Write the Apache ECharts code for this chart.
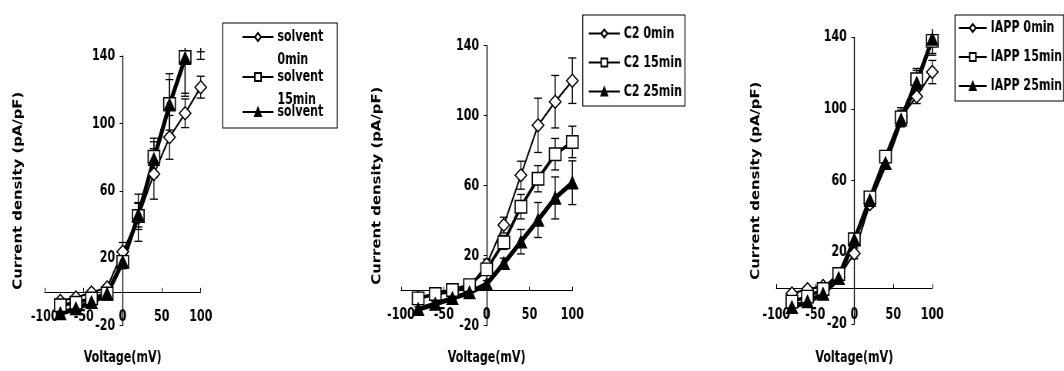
<!DOCTYPE html>
<html>
<head>
<meta charset="utf-8">
<script src="https://cdn.jsdelivr.net/npm/echarts@6/dist/echarts.min.js"></script>
<style>
  html, body { margin: 0; padding: 0; background: #fff; overflow: hidden; }
  /* the original figure is squeezed sideways, so draw wide and scale x down */
  #main { width: 1382px; height: 371px; transform: scaleX(0.77); transform-origin: 0 0; }
</style>
</head>
<body>
<div id="main"></div>
<script>
// membrane potential steps (mV)
var voltage = [-80, -60, -40, -20, 0, 20, 40, 60, 80, 100];
var xTicks = [-100, -50, 0, 50, 100];
var yTicks = [-20, 20, 60, 100, 140];

// panel 1 - solvent
var solventNames = ['solvent 0min', 'solvent 15min', 'solvent 25min'];
var solventLegend = [['solvent', '0min'], ['solvent', '15min'], ['solvent']];
var solvent0 = [-5.5, -3.4, -0.4, 2.6, 23.8, 44, 70, 91.7, 106, 121.5];
var solvent0Err = [1.5, 1.5, 1.5, 1.5, 5.5, 14, 15, 13, 8.5, 6.5];
var solvent15 = [-8, -6.5, -4, -1, 17.8, 45, 80.2, 111.5, 139.4, 158];
var solvent15Err = [1.5, 1.5, 1.5, 1.5, 4, 8, 11, 18, 21.5, 15.5];
var solvent25 = [-12.9, -10, -6.3, -1.4, 17.8, 45.5, 78.6, 111, 138.6, 152];
var solvent25Err = [1.5, 1.5, 1.5, 1.5, 4, 7, 10.5, 15, 22.5, 14];

// panel 2 - C2
var c2Names = ['C2 0min', 'C2 15min', 'C2 25min'];
var c2_0 = [-4, -2, -1, 2, 15, 37.5, 66, 94.5, 108, 120];
var c2_0Err = [1.5, 1.5, 1.5, 1.5, 3, 4.5, 8, 15.5, 15, 13];
var c2_15 = [-4.4, -1.9, 0.4, 3.2, 12.2, 27.6, 48, 64, 78, 85];
var c2_15Err = [1.5, 1.5, 1.5, 1.5, 3, 4, 7, 7.5, 9, 9];
var c2_25 = [-10.7, -7.6, -4.4, -1.1, 3.8, 15.6, 28, 40.4, 53, 61.7];
var c2_25Err = [1.5, 1.5, 1.5, 1.5, 2, 3, 7, 10, 12, 12.5];

// panel 3 - IAPP
var iappNames = ['IAPP 0min', 'IAPP 15min', 'IAPP 25min'];
var iapp0 = [-3, -0.6, 1.2, 6, 19.4, 47, 72, 95.7, 107, 120.6];
var iapp0Err = [1.5, 1.5, 1.5, 1.5, 3, 2, 2, 5, 4, 6.5];
var iapp15 = [-7.5, -4.7, -0.5, 7.9, 27.3, 50.7, 73.4, 95.3, 116.6, 138];
var iapp15Err = [1.5, 1.5, 1.5, 1.5, 2, 2, 2, 4, 6, 8];
var iapp25 = [-10.7, -7.5, -3.3, 5.5, 27, 49, 69.7, 94, 114.5, 139];
var iapp25Err = [1.5, 1.5, 1.5, 1.5, 2, 2, 2, 4, 7, 8];

var SX = 0.77;
function px(v) { return v / SX; } // screen px (horizontal) -> chart units

var FONT = '"DejaVu Sans Condensed", "DejaVu Sans", sans-serif';
var txt = { fontFamily: FONT, fontWeight: 'bold', fontSize: 16, color: '#000' };

// marker look for 0 / 15 / 25 min
var looks = [
  { symbol: 'diamond', size: [15, 13], fill: '#fff', width: 2 },
  { symbol: 'rect', size: [15, 12.5], fill: '#fff', width: 3.5 },
  { symbol: 'triangle', size: [14, 12], fill: '#000', width: 5 }
];

function lineSeries(name, idx, vals, k) {
  var lk = looks[k];
  return {
    name: name, type: 'line', xAxisIndex: idx, yAxisIndex: idx,
    data: voltage.map(function (v, i) { return [v, vals[i]]; }),
    symbol: lk.symbol, symbolSize: lk.size, showAllSymbol: true,
    lineStyle: { color: '#000', width: lk.width },
    itemStyle: { color: lk.fill, borderColor: '#000', borderWidth: 1.5 },
    z: 3
  };
}

function errSeries(idx, vals, errs) {
  return {
    type: 'custom', xAxisIndex: idx, yAxisIndex: idx, z: 1, silent: true, clip: false,
    data: voltage.map(function (v, i) { return [v, vals[i], errs[i]]; }),
    encode: { x: 0, y: 1 },
    renderItem: function (params, api) {
      var x = api.value(0), y = api.value(1), e = api.value(2);
      var hi = api.coord([x, y + e]);
      var lo = api.coord([x, y - e]);
      var top = params.coordSys.y - 8;
      if (lo[1] < top) return null;
      var w = px(4);
      var st = { stroke: '#000', lineWidth: 1.3 };
      var kids = [
        { type: 'line', shape: { x1: lo[0], y1: lo[1], x2: hi[0], y2: Math.max(hi[1], top) }, style: st },
        { type: 'line', shape: { x1: lo[0] - w, y1: lo[1], x2: lo[0] + w, y2: lo[1] }, style: st }
      ];
      if (hi[1] >= top) {
        kids.push({ type: 'line', shape: { x1: hi[0] - w, y1: hi[1], x2: hi[0] + w, y2: hi[1] }, style: st });
      }
      return { type: 'group', children: kids };
    }
  };
}

// plot areas in screen px
var boxes = [
  { left: 44.7, top: 56, width: 156, height: 269.5, xLab: -16.5, xName: 24.5, yName: 20 },
  { left: 401, top: 45.7, width: 171.3, height: 280, xLab: -18.7, xName: 24.3, yName: 17 },
  { left: 776.3, top: 37.3, width: 156, height: 286.7, xLab: -17, xName: 26, yName: 14 }
];

var grids = boxes.map(function (b) {
  return {
    left: px(b.left), top: b.top, width: px(b.width), height: b.height,
    containLabel: false, outerBoundsMode: 'none'
  };
});

var xAxes = boxes.map(function (b, i) {
  return {
    type: 'value', gridIndex: i, min: -100, max: 100,
    axisLine: { show: true, onZero: true, lineStyle: { color: '#000', width: 1 } },
    axisTick: { show: true, inside: true, length: 4, customValues: xTicks, lineStyle: { color: '#000' } },
    axisLabel: Object.assign({ margin: b.xLab, customValues: xTicks }, txt),
    splitLine: { show: false },
    name: 'Voltage(mV)', nameLocation: 'middle', nameGap: b.xName,
    nameTextStyle: txt
  };
});

var yAxes = boxes.map(function (b, i) {
  return {
    type: 'value', gridIndex: i, min: -20, max: 140,
    axisLine: { show: true, onZero: true, lineStyle: { color: '#000', width: 1.3 } },
    axisTick: { show: true, length: px(3), customValues: yTicks, lineStyle: { color: '#000' } },
    axisLabel: Object.assign({ margin: -px(b.width / 2 - 7.5), customValues: yTicks }, txt),
    splitLine: { show: false },
    name: 'Current density (pA/pF)', nameLocation: 'middle', nameGap: px(b.yName), nameRotate: 90,
    nameTextStyle: { fontFamily: FONT, fontWeight: 'bold', fontSize: 16.5, color: '#000' }
  };
});

var legendBase = {
  orient: 'vertical', backgroundColor: '#fff', borderColor: '#000', borderWidth: 1.2,
  itemHeight: 10, selectedMode: false, textStyle: txt
};

var option = {
  backgroundColor: '#fff',
  animation: false,
  grid: grids,
  xAxis: xAxes,
  yAxis: yAxes,
  legend: [
    Object.assign({}, legendBase, {
      data: solventNames, left: px(222.7), top: 23, itemWidth: px(31), itemGap: -4,
      padding: [1, px(14), 8, px(19)],
      formatter: function (name) {
        var l = solventLegend[solventNames.indexOf(name)];
        return l.length > 1 ? '{s|' + l[0] + '}\n{m|' + l[1] + '}' : '{s|' + l[0] + '}';
      },
      textStyle: Object.assign({}, txt, {
        width: px(50),
        rich: {
          s: Object.assign({ lineHeight: 18 }, txt),
          m: Object.assign({ lineHeight: 1, padding: [28, 0, 0, 0] }, txt)
        }
      })
    }),
    Object.assign({}, legendBase, {
      data: c2Names, left: px(582.7), top: 15, itemWidth: px(31), itemGap: 13,
      padding: [10.5, px(3), 6.5, px(5.3)]
    }),
    Object.assign({}, legendBase, {
      data: iappNames, left: px(955), top: 15, itemWidth: px(28), itemGap: 13,
      padding: [5, px(1.5), 7, px(3)]
    })
  ],
  series: [
    errSeries(0, solvent0, solvent0Err),
    errSeries(0, solvent15, solvent15Err),
    errSeries(0, solvent25, solvent25Err),
    lineSeries(solventNames[0], 0, solvent0, 0),
    lineSeries(solventNames[1], 0, solvent15, 1),
    lineSeries(solventNames[2], 0, solvent25, 2),
    errSeries(1, c2_0, c2_0Err),
    errSeries(1, c2_15, c2_15Err),
    errSeries(1, c2_25, c2_25Err),
    lineSeries(c2Names[0], 1, c2_0, 0),
    lineSeries(c2Names[1], 1, c2_15, 1),
    lineSeries(c2Names[2], 1, c2_25, 2),
    errSeries(2, iapp0, iapp0Err),
    errSeries(2, iapp15, iapp15Err),
    errSeries(2, iapp25, iapp25Err),
    lineSeries(iappNames[0], 2, iapp0, 0),
    lineSeries(iappNames[1], 2, iapp15, 1),
    lineSeries(iappNames[2], 2, iapp25, 2)
  ]
};

var chart = echarts.init(document.getElementById('main'));
chart.setOption(option);
</script>
</body>
</html>
